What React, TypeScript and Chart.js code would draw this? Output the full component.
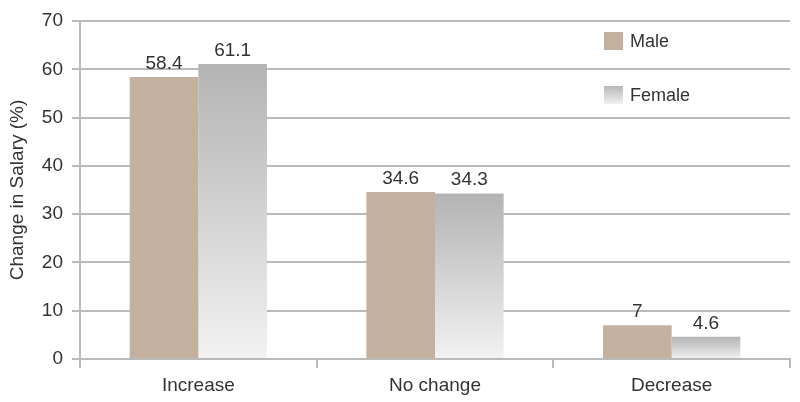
import React, { useEffect, useRef } from "react";
import { Chart, registerables } from "chart.js";

Chart.register(...registerables);

const categories = ["Increase", "No change", "Decrease"];
const maleValues = [58.4, 34.6, 7];
const femaleValues = [61.1, 34.3, 4.6];
const seriesLabels = ["Male", "Female"];
const yTicks = [0, 10, 20, 30, 40, 50, 60, 70];

const FONT = "'Liberation Sans', Arial, sans-serif";
const MALE_COLOR = "#c4b09f";
const GRID_COLOR = "#bababa";
const TEXT_COLOR = "#333333";

export default function App() {
  const ref = useRef<HTMLCanvasElement | null>(null);

  useEffect(() => {
    if (!ref.current) return;

    const femaleGradient = (ctx: any) => {
      const chart = ctx.chart;
      const y = chart.scales?.y;
      if (!y || ctx.type !== "data") return "#d0d0d0";
      const top = y.getPixelForValue(ctx.parsed?.y ?? ctx.raw);
      const base = y.getPixelForValue(0);
      if (!isFinite(top) || !isFinite(base) || top === base) return "#d0d0d0";
      const g = chart.ctx.createLinearGradient(0, top, 0, base);
      g.addColorStop(0, "#b3b3b3");
      g.addColorStop(1, "#f2f2f2");
      return g;
    };

    const labelPlugin = {
      id: "barLabels",
      afterDatasetsDraw(chart: any) {
        const c = chart.ctx;
        c.save();
        c.font = `19px ${FONT}`;
        c.fillStyle = TEXT_COLOR;
        c.textAlign = "center";
        c.textBaseline = "alphabetic";
        chart.data.datasets.forEach((ds: any, i: number) => {
          const meta = chart.getDatasetMeta(i);
          meta.data.forEach((el: any, j: number) => {
            c.fillText(String(ds.data[j]), el.x, el.y - 8);
          });
        });
        c.restore();
      },
    };

    const legendPlugin = {
      id: "customLegend",
      afterDraw(chart: any) {
        const c = chart.ctx;
        c.save();
        const x = 604;
        const rows = [41, 95];
        c.font = `18px ${FONT}`;
        c.textBaseline = "middle";
        c.textAlign = "left";
        rows.forEach((cy, i) => {
          if (i === 0) {
            c.fillStyle = MALE_COLOR;
          } else {
            const g = c.createLinearGradient(0, cy - 9, 0, cy + 9);
            g.addColorStop(0, "#b8b8b8");
            g.addColorStop(1, "#f0f0f0");
            c.fillStyle = g;
          }
          c.fillRect(x, cy - 9, 19, 18);
          c.fillStyle = TEXT_COLOR;
          c.fillText(seriesLabels[i], x + 26, cy + 1);
        });
        c.restore();
      },
    };

    const chart = new Chart(ref.current, {
      type: "bar",
      data: {
        labels: categories,
        datasets: [
          {
            label: seriesLabels[0],
            data: maleValues,
            backgroundColor: MALE_COLOR,
            categoryPercentage: 0.58,
            barPercentage: 1,
          },
          {
            label: seriesLabels[1],
            data: femaleValues,
            backgroundColor: femaleGradient,
            categoryPercentage: 0.58,
            barPercentage: 1,
          },
        ],
      },
      options: {
        responsive: false,
        animation: false,
        layout: { padding: { top: 21, right: 10, bottom: 0, left: 0 } },
        plugins: {
          legend: { display: false },
          tooltip: { enabled: false },
        },
        scales: {
          x: {
            offset: true,
            grid: {
              offset: true,
              drawOnChartArea: false,
              drawTicks: true,
              tickLength: 9,
              color: GRID_COLOR,
              lineWidth: 2,
            },
            border: { display: true, color: GRID_COLOR, width: 2 },
            ticks: {
              color: TEXT_COLOR,
              font: { family: FONT, size: 19 },
              padding: 6,
            },
            afterFit: (s: any) => {
              s.height = 43;
            },
          },
          y: {
            min: 0,
            max: 70,
            afterBuildTicks: (s: any) => {
              s.ticks = yTicks.map((v) => ({ value: v }));
            },
            grid: {
              color: GRID_COLOR,
              lineWidth: 2,
              tickLength: 8,
            },
            border: { display: true, color: GRID_COLOR, width: 2 },
            ticks: {
              color: TEXT_COLOR,
              font: { family: FONT, size: 19 },
              padding: 9,
            },
            title: {
              display: true,
              text: "Change in Salary (%)",
              color: TEXT_COLOR,
              font: { family: FONT, size: 19 },
              padding: { top: 6, bottom: 0 },
            },
            afterFit: (s: any) => {
              s.width = 80;
            },
          },
        },
      },
      plugins: [labelPlugin, legendPlugin],
    });

    return () => chart.destroy();
  }, []);

  return (
    <div style={{ position: "absolute", left: 0, top: 0, width: 800, height: 402, background: "#fff" }}>
      <canvas ref={ref} width={800} height={402} />
    </div>
  );
}
